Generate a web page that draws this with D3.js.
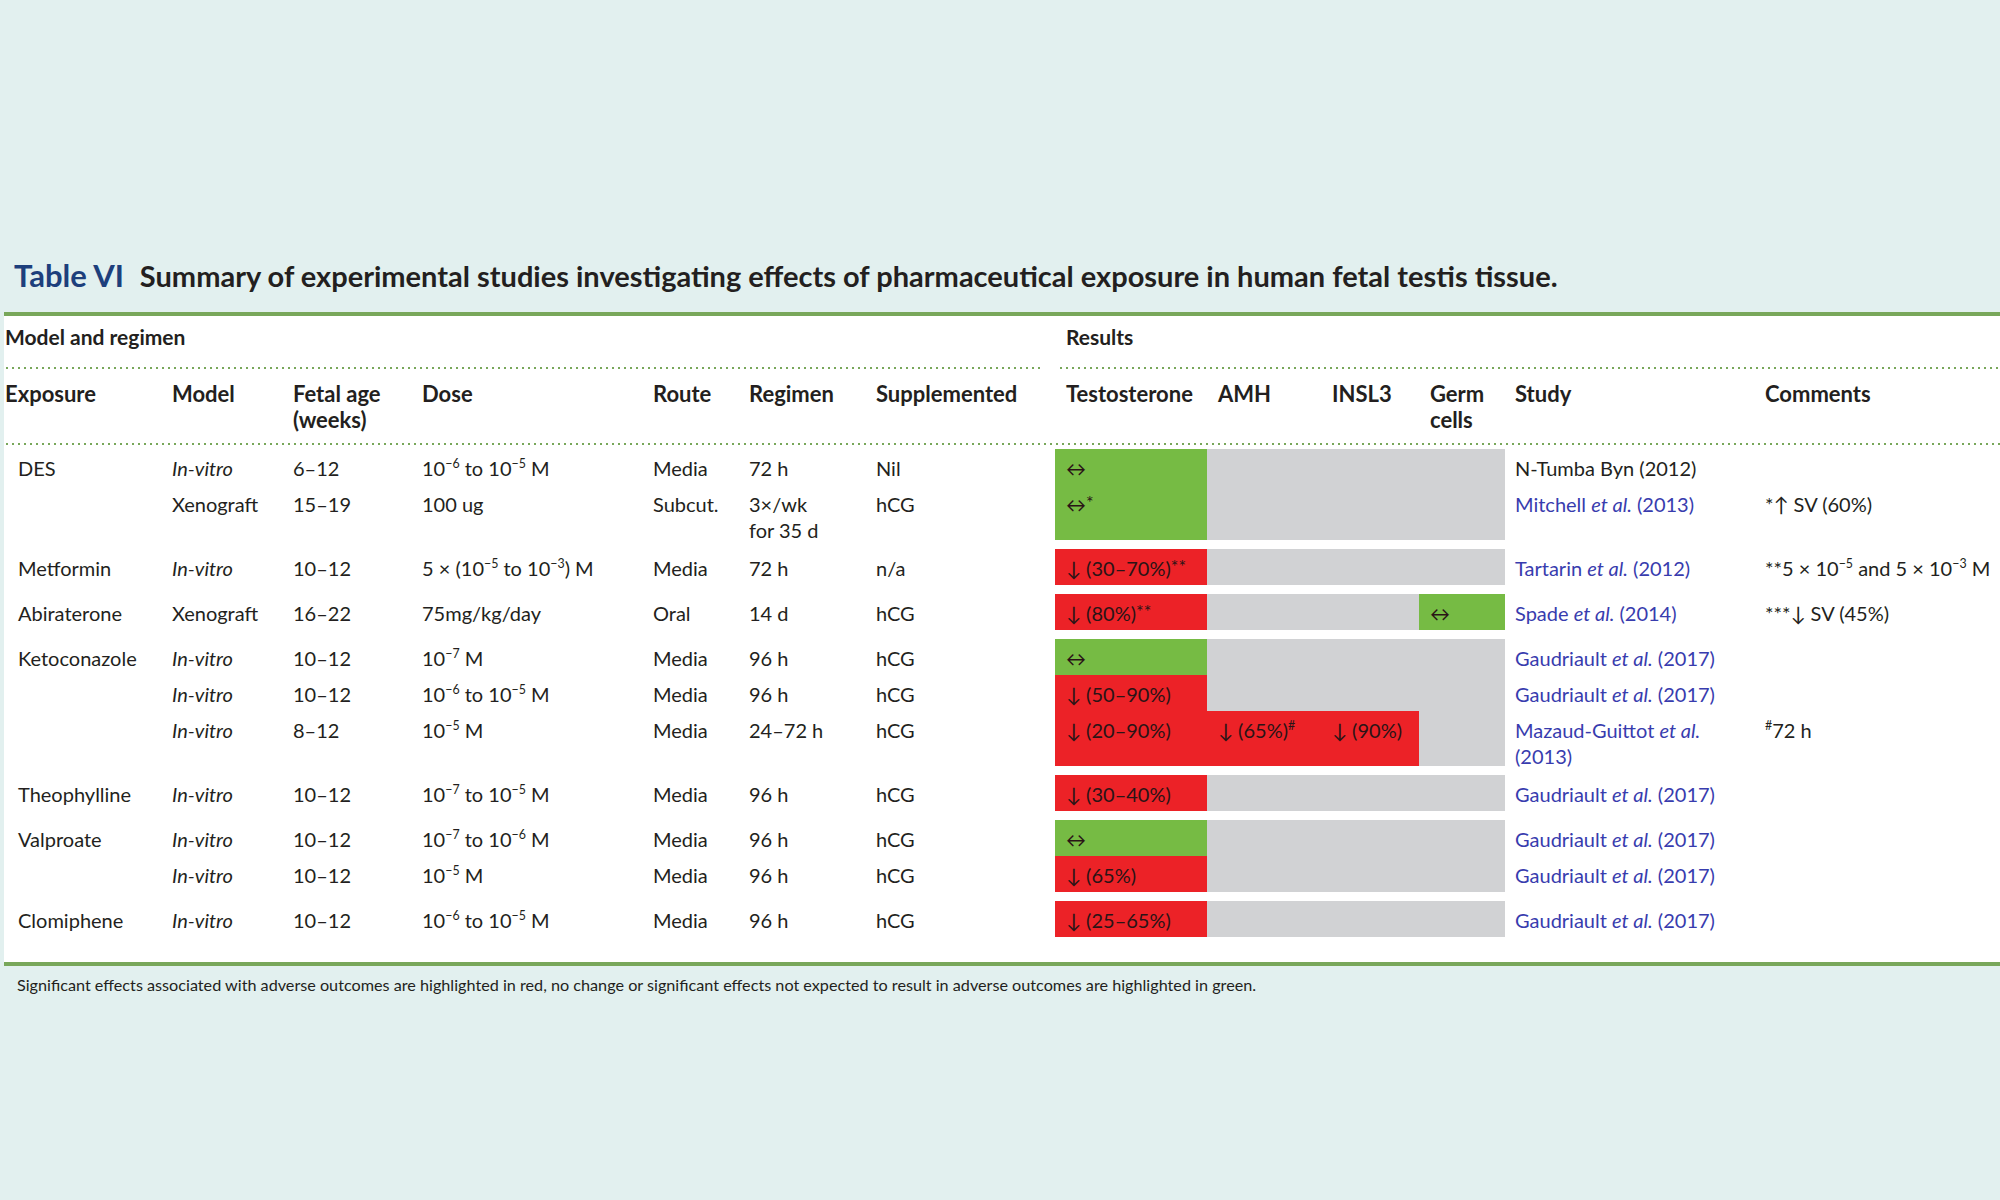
<!DOCTYPE html>
<html>
<head>
<meta charset="utf-8">
<script src="https://cdn.jsdelivr.net/npm/d3@7"></script>
<style>
  body { margin: 0; background: #e2f0ef; }
  svg { display: block; }
  text { font-family: Lato, "Open Sans", sans-serif; fill: #231f20; }
</style>
</head>
<body>
<div id="chart"></div>
<script>
// Table VI — pharmaceutical exposure in human fetal testis tissue

const exposures = ["DES", "", "Metformin", "Abiraterone", "Ketoconazole", "", "", "Theophylline", "Valproate", "", "Clomiphene"];
const models = ["<i>In-vitro</i>", "Xenograft", "<i>In-vitro</i>", "Xenograft", "<i>In-vitro</i>", "<i>In-vitro</i>", "<i>In-vitro</i>", "<i>In-vitro</i>", "<i>In-vitro</i>", "<i>In-vitro</i>", "<i>In-vitro</i>"];
const fetalAges = ["6–12", "15–19", "10–12", "16–22", "10–12", "10–12", "8–12", "10–12", "10–12", "10–12", "10–12"];
const doses = [
    "10<sup>−6</sup> to 10<sup>−5</sup> M", "100 ug", "5 × (10<sup>−5</sup> to 10<sup>−3</sup>) M", "75mg/kg/day",
    "10<sup>−7</sup> M", "10<sup>−6</sup> to 10<sup>−5</sup> M", "10<sup>−5</sup> M", "10<sup>−7</sup> to 10<sup>−5</sup> M",
    "10<sup>−7</sup> to 10<sup>−6</sup> M", "10<sup>−5</sup> M", "10<sup>−6</sup> to 10<sup>−5</sup> M"
];
const routes = ["Media", "Subcut.", "Media", "Oral", "Media", "Media", "Media", "Media", "Media", "Media", "Media"];
const regimens = ["72 h", "3×/wk\nfor 35 d", "72 h", "14 d", "96 h", "96 h", "24–72 h", "96 h", "96 h", "96 h", "96 h"];
const supplemented = ["Nil", "hCG", "n/a", "hCG", "hCG", "hCG", "hCG", "hCG", "hCG", "hCG", "hCG"];

const testosterone = ["↔", "↔<sup>*</sup>", "↓ (30–70%)<sup>**</sup>", "↓ (80%)<sup>**</sup>", "↔", "↓ (50–90%)", "↓ (20–90%)", "↓ (30–40%)", "↔", "↓ (65%)", "↓ (25–65%)"];
const testosteroneEffect = ["green", "green", "red", "red", "green", "red", "red", "red", "green", "red", "red"];
const amh = ["", "", "", "", "", "", "↓ (65%)<sup>#</sup>", "", "", "", ""];
const amhEffect = ["none", "none", "none", "none", "none", "none", "red", "none", "none", "none", "none"];
const insl3 = ["", "", "", "", "", "", "↓ (90%)", "", "", "", ""];
const insl3Effect = ["none", "none", "none", "none", "none", "none", "red", "none", "none", "none", "none"];
const germCells = ["", "", "", "↔", "", "", "", "", "", "", ""];
const germEffect = ["none", "none", "none", "green", "none", "none", "none", "none", "none", "none", "none"];

const studies = [
    "N-Tumba Byn (2012)", "Mitchell <i>et al.</i> (2013)", "Tartarin <i>et al.</i> (2012)", "Spade <i>et al.</i> (2014)",
    "Gaudriault <i>et al.</i> (2017)", "Gaudriault <i>et al.</i> (2017)", "Mazaud-Guittot <i>et al.</i>\n(2013)",
    "Gaudriault <i>et al.</i> (2017)", "Gaudriault <i>et al.</i> (2017)", "Gaudriault <i>et al.</i> (2017)", "Gaudriault <i>et al.</i> (2017)"
];
const studyLinked = [false, true, true, true, true, true, true, true, true, true, true];
const comments = ["", "*↑ SV (60%)", "**5 × 10<sup>−5</sup> and 5 × 10<sup>−3</sup> M", "***↓ SV (45%)", "", "", "<sup>#</sup>72 h", "", "", "", ""];

// which exposure block each row belongs to
const groups = [0, 0, 1, 2, 3, 3, 3, 4, 5, 5, 6];

const headers = ["Exposure", "Model", "Fetal age\n(weeks)", "Dose", "Route", "Regimen", "Supplemented",
                 "Testosterone", "AMH", "INSL3", "Germ\ncells", "Study", "Comments"];
const columnKeys = ["exposure", "model", "age", "dose", "route", "regimen", "supp",
                    "testo", "amh", "insl3", "germ", "study", "comments"];

const footnote = "Significant effects associated with adverse outcomes are highlighted in red, no change or significant effects not expected to result in adverse outcomes are highlighted in green.";

// --- layout ---
const W = 2000, H = 1200;
const colX = d3.scaleOrdinal()
    .domain(columnKeys)
    .range([5, 172, 293, 422, 653, 749, 876, 1066, 1218, 1332, 1430, 1515, 1765]);
const cellBounds = { testo: [1055, 1207], amh: [1207, 1320], insl3: [1320, 1419], germ: [1419, 1505] };
const effectColor = d3.scaleOrdinal().domain(["red", "green", "none"]).range(["#ec2227", "#76bb44", "#d1d2d4"]);

const ruleGreen = "#78a75a";
const tableTop = 312, tableBottom = 963;
const bodyTop = 449, rowH = 36, extraLine = 19, groupGap = 9, lineStep = 26;

const svg = d3.select("#chart").append("svg")
    .attr("width", W)
    .attr("height", H);

svg.append("rect").attr("width", W).attr("height", H).attr("fill", "#e2f0ef");
svg.append("rect")
    .attr("x", 4).attr("y", tableTop)
    .attr("width", W - 4).attr("height", tableBottom - tableTop)
    .attr("fill", "#fff");

// rich text: <sup>..</sup>, <i>..</i>, \n
function richText(g, str, x, y, opts = {}) {
    const size = opts.size || 20;
    str.split("\n").forEach((line, li) => {
        const t = g.append("text")
            .attr("x", x)
            .attr("y", y + li * lineStep)
            .style("font-size", size + "px")
            .style("font-weight", opts.weight || 400);
        if (opts.fill) t.style("fill", opts.fill);
        const parts = line.split(/(<sup>.*?<\/sup>|<i>.*?<\/i>)/).filter(p => p !== "");
        let raised = 0;
        parts.forEach(p => {
            if (p.startsWith("<sup>")) {
                const s = p.slice(5, -6);
                // asterisks sit a bit lower and larger than numeric superscripts
                const star = /^\*+$/.test(s);
                const lift = star ? 3 : 8;
                t.append("tspan").attr("dy", raised - lift)
                    .style("font-size", (size * (star ? 0.9 : 0.62)) + "px")
                    .text(s);
                raised = lift;
            } else {
                const sp = t.append("tspan").attr("dy", raised);
                raised = 0;
                if (p.startsWith("<i>")) {
                    sp.style("font-style", "italic").text(p.slice(3, -4));
                } else {
                    sp.text(p);
                }
            }
        });
    });
}

// title
const title = svg.append("text")
    .attr("x", 14).attr("y", 287)
    .style("font-size", "29px")
    .style("font-weight", 700);
title.append("tspan").style("fill", "#1d3f7c").style("font-size", "31px").text("Table VI");
title.append("tspan").attr("dx", 16)
    .text("Summary of experimental studies investigating effects of pharmaceutical exposure in human fetal testis tissue.");

// rules
function dotted(x1, x2, y) {
    svg.append("line")
        .attr("x1", x1).attr("x2", x2).attr("y1", y).attr("y2", y)
        .attr("stroke", ruleGreen)
        .attr("stroke-width", 2)
        .attr("stroke-dasharray", "2,4");
}
svg.append("rect").attr("x", 4).attr("y", tableTop).attr("width", W - 4).attr("height", 4).attr("fill", ruleGreen);
svg.append("rect").attr("x", 4).attr("y", tableBottom - 1).attr("width", W - 4).attr("height", 4).attr("fill", ruleGreen);
dotted(6, 1044, 368);
dotted(1060, W, 368);
dotted(6, W, 444);

// group headers
richText(svg, "Model and regimen", 5, 345, { weight: 700, size: 21 });
richText(svg, "Results", 1066, 345, { weight: 700, size: 21 });

// column headers
headers.forEach((h, i) => {
    richText(svg, h, colX(columnKeys[i]), 402, { weight: 700, size: 22 });
});

// row positions
const rowLines = d3.range(exposures.length).map(i =>
    d3.max([regimens[i], studies[i], doses[i]], s => s.split("\n").length));
const rowTop = [];
let yCursor = bodyTop;
rowLines.forEach((n, i) => {
    if (i > 0 && groups[i] !== groups[i - 1]) yCursor += groupGap;
    rowTop.push(yCursor);
    yCursor += rowH + extraLine * (n - 1);
});
const rowHeight = i => rowH + extraLine * (rowLines[i] - 1);

// result cells
const cellLayer = svg.append("g").attr("shape-rendering", "crispEdges");
const resultCols = [
    { key: "testo", text: testosterone, effect: testosteroneEffect },
    { key: "amh", text: amh, effect: amhEffect },
    { key: "insl3", text: insl3, effect: insl3Effect },
    { key: "germ", text: germCells, effect: germEffect }
];
resultCols.forEach(col => {
    cellLayer.selectAll(null)
        .data(d3.range(exposures.length))
        .join("rect")
        .attr("x", cellBounds[col.key][0])
        .attr("width", cellBounds[col.key][1] - cellBounds[col.key][0])
        .attr("y", i => rowTop[i])
        .attr("height", i => rowHeight(i))
        .attr("fill", i => effectColor(col.effect[i]));
});

// body text
const body = svg.append("g");
const textCols = [
    { key: "exposure", values: exposures, dx: 13 },
    { key: "model", values: models },
    { key: "age", values: fetalAges },
    { key: "dose", values: doses },
    { key: "route", values: routes },
    { key: "regimen", values: regimens },
    { key: "supp", values: supplemented },
    ...resultCols.map(c => ({ key: c.key, values: c.text, fill: "#2a1416" })),
    { key: "study", values: studies, fill: i => studyLinked[i] ? "#383cae" : "#231f20" },
    { key: "comments", values: comments }
];
textCols.forEach(col => {
    col.values.forEach((v, i) => {
        if (!v) return;
        const fill = typeof col.fill === "function" ? col.fill(i) : col.fill;
        richText(body, v, colX(col.key) + (col.dx || 0), rowTop[i] + 27, { fill: fill });
    });
});

// footnote
richText(svg, footnote, 17, 991, { size: 16.2 });
</script>
</body>
</html>
